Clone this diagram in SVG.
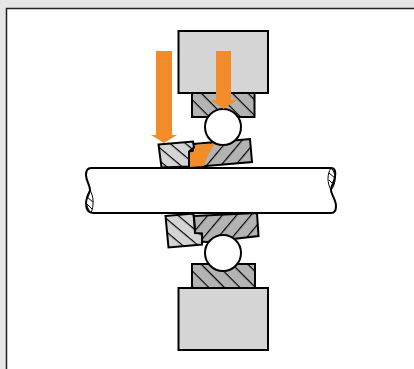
<svg xmlns="http://www.w3.org/2000/svg" width="414" height="369" viewBox="0 0 414 369">
<style>
.o{stroke:#000;stroke-width:2;stroke-linejoin:miter}
.l{fill:#d5d5d5}
.s{fill:#fff;stroke:#000;stroke-width:2}
.h{fill:none;stroke:#000;stroke-width:1}
.a{fill:#f28c28}
</style>
<defs>
<pattern id="hb" width="11" height="11" patternUnits="userSpaceOnUse" patternTransform="rotate(45 0 0)"><rect width="11" height="11" fill="#b3b3b3"/><line x1="0" y1="0.6" x2="11" y2="0.6" stroke="#000" stroke-width="1.200"/></pattern>
<pattern id="hf" width="11" height="11" patternUnits="userSpaceOnUse" patternTransform="rotate(-50 0 0)"><rect width="11" height="11" fill="#b3b3b3"/><line x1="0" y1="0.6" x2="11" y2="0.6" stroke="#000" stroke-width="1.200"/></pattern>
<pattern id="lb" width="10" height="10" patternUnits="userSpaceOnUse" patternTransform="rotate(40 0 0)"><rect width="10" height="10" fill="#d5d5d5"/><line x1="0" y1="0.6" x2="10" y2="0.6" stroke="#000" stroke-width="1.200"/></pattern>
</defs>
<rect width="414" height="369" fill="#e6e6e6"/>
<rect x="6.500" y="8.500" width="420" height="380" fill="#fff" stroke="#222" stroke-width="1.500"/>
<g id="shaft">
<path class="s" d="M91 168H331C335 168 336 172 335 177C334 183 331 186 331 190C331 194 336 200 336 206C336 211 334 213 331 213H93C88 213 86 209 86 203C86 197 90 194 90 190C90 185 86 181 86 175C86 170 88 168 91 168Z"/>
<path class="h" stroke-width="1.500" d="M331 168C327 174 327 183 331 190C336 184 337 174 331 168ZM329 173L335 178M329 180L334 185"/>
<path class="h" stroke-width="1.500" d="M90 190C85 197 85 206 91 213C94 206 94 197 90 190ZM87 197L93 202M87 204L92 209"/>
</g>
<g id="top-housing"><rect class="o l" x="178.500" y="31" width="89.500" height="62"/></g>
<g id="top-seat"><rect class="o" fill="url(#hb)" x="192" y="93" width="62.500" height="24"/></g>
<g id="upper-right-ring">
<path class="o" fill="url(#hf)" d="M193 144L250 139L252 162L189 167.500L189 152L193 151Z"/>
<path class="a" d="M194 145L215 143.500L208 155L204 166L190 167L190 152.500L194 151.500Z"/>
</g>
<g id="upper-left-ring"><path class="o" fill="url(#lb)" d="M158.500 144.500L193 141.500L194 147.500L189 151.500L189 166.500L161.500 167.500Z"/></g>
<g id="top-ball"><circle class="s" cx="223" cy="127" r="18"/></g>
<g id="bottom-right-ring"><path class="o" fill="url(#hf)" d="M194 216L257 213L258.500 236L207 242L201 241.500L195 233Z"/></g>
<g id="bottom-left-ring"><path class="o" fill="url(#lb)" d="M165.500 216L193.500 213.500L195 233L202 233.500L202 244.500L168.500 247.500Z"/></g>
<g id="bottom-seat"><rect class="o" fill="url(#hb)" x="192" y="264" width="63" height="24"/></g>
<g id="bottom-ball"><circle class="s" cx="223" cy="253" r="18"/></g>
<g id="bottom-housing"><rect class="o l" x="178.500" y="288" width="89.500" height="62"/></g>
<g id="load-arrows">
<path class="a" d="M156 51H172V135H177L164 143L151 135H156Z"/>
<path class="a" d="M216 51H231V100H237L223.500 109L211 100H216Z"/>
</g>
</svg>
